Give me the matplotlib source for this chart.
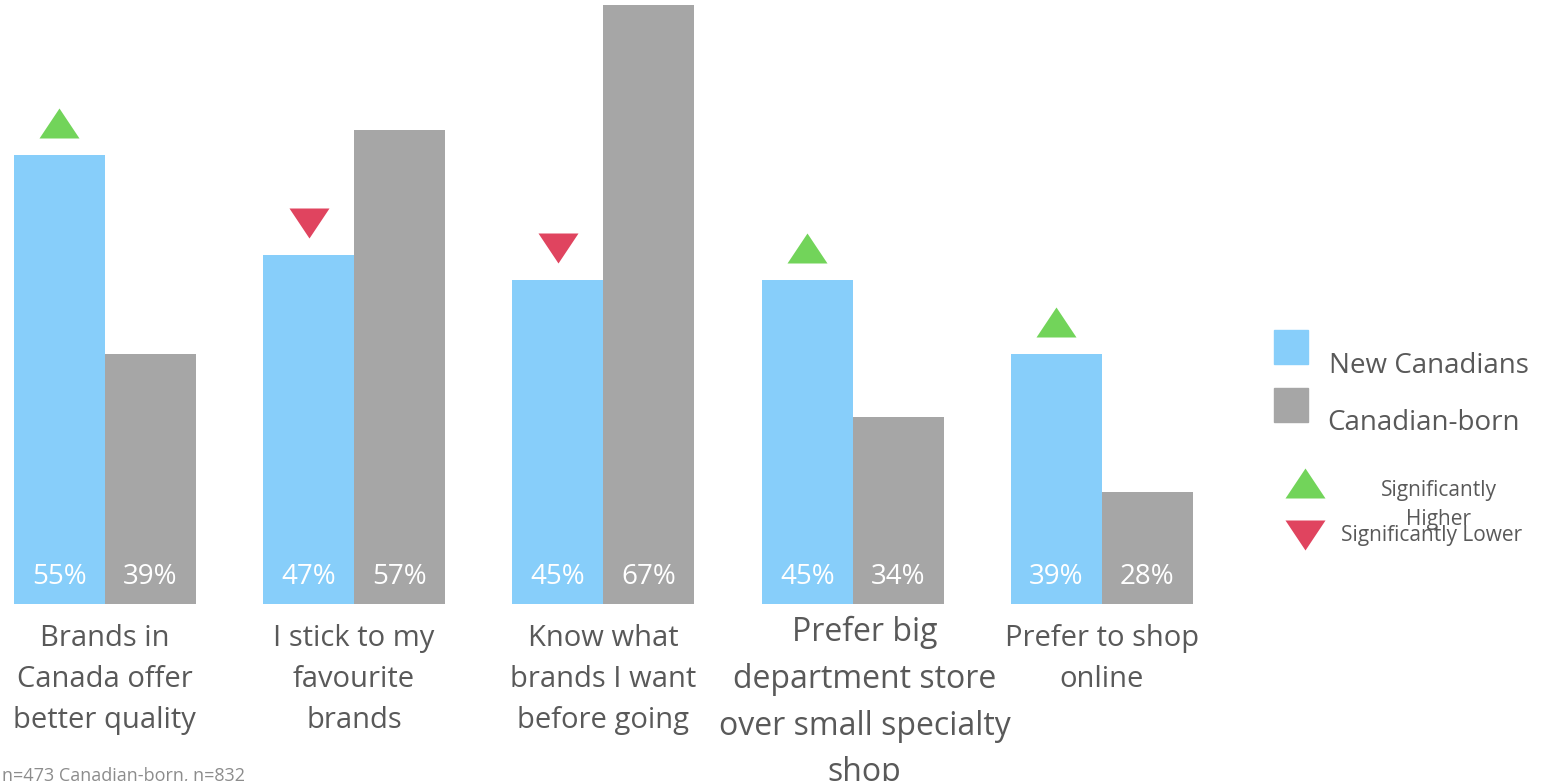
import matplotlib.pyplot as plt
from matplotlib.patches import Rectangle
from matplotlib.transforms import offset_copy

plt.rcParams['font.family'] = ['Open Sans', 'DejaVu Sans']

categories = [
    "Brands in\nCanada offer\nbetter quality",
    "I stick to my\nfavourite\nbrands",
    "Know what\nbrands I want\nbefore going",
    "Prefer big\ndepartment store\nover small specialty\nshop",
    "Prefer to shop\nonline",
]
new_canadians = [55, 47, 45, 45, 39]
canadian_born = [39, 57, 67, 34, 28]
# +1 = significantly higher, -1 = significantly lower
significance = [1, -1, -1, 1, 1]

BLUE = "#87CEFA"
GRAY = "#A6A6A6"
GREEN = "#72D45A"
RED = "#E0445F"
TEXT = "#595959"

W, H = 1546, 781
fig = plt.figure(figsize=(W / 100, H / 100), dpi=100)

# main bar axes, baseline sits at y=604px
ax = fig.add_axes([0, (H - 604) / H, 1246 / W, 604 / H])
ax.set_xlim(-0.421, 4.578)
ax.set_ylim(19, 67.4)
ax.axis("off")

bw = 0.365
xs = list(range(len(categories)))
base = 19
ax.bar([x - bw / 2 for x in xs], [v - base for v in new_canadians], bw,
       bottom=base, color=BLUE)
ax.bar([x + bw / 2 for x in xs], [v - base for v in canadian_born], bw,
       bottom=base, color=GRAY)

for x, a, b in zip(xs, new_canadians, canadian_born):
    ax.annotate(f"{a}%", (x - bw / 2, base), xytext=(0, 27),
                textcoords="offset pixels", ha="center", va="center",
                color="white", fontsize=20)
    ax.annotate(f"{b}%", (x + bw / 2, base), xytext=(0, 27),
                textcoords="offset pixels", ha="center", va="center",
                color="white", fontsize=20)

# category labels under the bars
label_dx = [0, 0, 0, 12, 0]
label_dy = [-20, -20, -20, -12, -20]
label_fs = [21, 21, 21, 23, 21]
for x, lab, dx, dy, fs in zip(xs, categories, label_dx, label_dy, label_fs):
    ax.annotate(lab, (x, base), xytext=(dx, dy), textcoords="offset pixels",
                ha="center", va="top", color=TEXT, fontsize=fs,
                linespacing=1.55, annotation_clip=False)

# significance triangles above the New Canadians bars
up = [(-1, -0.75), (1, -0.75), (0, 0.75)]
down = [(-1, 0.75), (1, 0.75), (0, -0.75)]
tri_tr = offset_copy(ax.transData, fig=fig, y=32, units="dots")
for x, v, s in zip(xs, new_canadians, significance):
    ax.plot(x - bw / 2, v, marker=up if s > 0 else down, markersize=28.8,
            color=GREEN if s > 0 else RED, markeredgewidth=0,
            transform=tri_tr, clip_on=False)

# legend drawn in pixel coordinates
lax = fig.add_axes([0, 0, 1, 1])
lax.set_xlim(0, W)
lax.set_ylim(H, 0)
lax.axis("off")
lax.add_patch(Rectangle((1274, 330), 34, 34, color=BLUE))
lax.add_patch(Rectangle((1274, 388), 34, 34, color=GRAY))
lax.text(1329, 366, "New Canadians", va="center", ha="left", color=TEXT, fontsize=20)
lax.text(1327, 423, "Canadian-born", va="center", ha="left", color=TEXT, fontsize=20)
lax.plot(1305, 483, marker=up, markersize=28.8, color=GREEN, markeredgewidth=0)
lax.plot(1305, 535, marker=down, markersize=28.8, color=RED, markeredgewidth=0)
lax.text(1439, 505, "Significantly\nHigher", va="center", ha="center",
         color=TEXT, fontsize=15, linespacing=1.5)
lax.text(1432, 536, "Significantly Lower", va="center", ha="center",
         color=TEXT, fontsize=15)

fig.text(2 / W, 1 - 767 / H, "n=473 Canadian-born, n=832",
         va="top", ha="left", color="#8c8c8c", fontsize=13)

fig.savefig("out.png", dpi=100)
